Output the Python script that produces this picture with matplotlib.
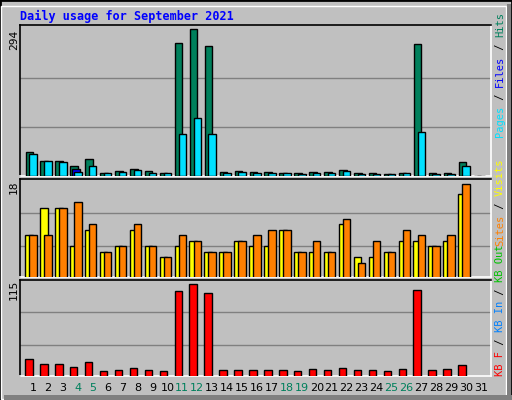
import matplotlib
matplotlib.use("Agg")
import matplotlib.pyplot as plt
from matplotlib.patches import Rectangle
import numpy as np

days = list(range(1, 32))
hits  = [48.6,30.6,30.6,20.6,34.6,6.6,10.6,14.6,10.6,6.6,266,294,260,8.6,10.6,
         8,8,6,6,8,8,12,6,6,4,6,265,6,6,27,0]
pages = [44.6,30.6,28.6,7.3,20.6,6.6,8.6,12.6,6.6,6.6,84.5,116,84.5,6.6,8.6,
         6,6,6,4,6,6,10,4,4,4,6,87,4,4,19,0]
files = list(pages); files[3] = 13
visits = [8,13,13,6,9,5,6,9,6,4,6,7,5,5,7,6,6,9,5,5,5,10,4,4,5,7,7,6,7,15.5,0]
sites  = [8,8,13,14,10,5,6,10,6,4,8,7,5,5,7,8,9,9,5,7,5,11,3,7,5,9,8,6,8,17.3,0]
kbf = [21.5,15.7,15.7,12.3,18,7.7,8.8,11.1,8.8,7.7,100.8,110,98.5,8.8,8.8,8.8,8.8,
       8.8,7.7,10,8.8,11.1,8.8,8.8,7.7,10,102,8.8,10,14.6,0]
weekends = [4,5,11,12,18,19,25,26]

BG = "#C0C0C0"
W, H = 512, 400
fig = plt.figure(figsize=(W/100, H/100), dpi=100, facecolor=BG)
fig.patches.append(Rectangle((0, 0), 1, 1, transform=fig.transFigure, fill=False,
                             edgecolor="black", lw=2))
fig.patches.append(Rectangle((1/W, 1/H), 1-7/W, 1-7/H, transform=fig.transFigure,
                             fill=False, edgecolor="white", lw=1))
fig.patches.append(Rectangle((4/W, 0), 1-4/W, 5/H, transform=fig.transFigure,
                             color="#808080", lw=0))
fig.patches.append(Rectangle((1-5/W, 0), 4/W, 1-4/H, transform=fig.transFigure,
                             color="#808080", lw=0))

def ax_at(top, bot):
    a = fig.add_axes([20/W, 1-bot/H, 471/W, (bot-top)/H])
    a.set_facecolor(BG)
    a.set_xlim(0.13, 31.67)
    a.set_xticks([]); a.set_yticks([])
    for s in a.spines.values():
        s.set_color("black"); s.set_linewidth(1.2)
    a.spines['right'].set_color("white"); a.spines['bottom'].set_color("white")
    return a

d = np.array(days)
kw = dict(edgecolor="black", linewidth=1, align="edge", zorder=3)

a1 = ax_at(25, 176)
a1.set_ylim(0, 302)
for g in (98, 196): a1.axhline(g, color="#808080", lw=1, zorder=1)
a1.bar(d-0.5, hits, 0.5, color="#00805C", **kw)
fmask = np.array(files) > np.array(pages)
a1.bar(d[fmask]-0.37, np.array(files)[fmask], 0.52, color="#0000FF", **kw)
a1.bar(d-0.25, pages, 0.5, color="#00E0FF", **kw)

a2 = ax_at(179, 277)
a2.set_ylim(0.43, 18.2)
for g in (6, 12): a2.axhline(g, color="#808080", lw=1, zorder=1)
a2.bar(d-0.52, visits, 0.5, color="#FFFF00", **kw)
a2.bar(d-0.25, sites, 0.5, color="#FF8000", **kw)

a3 = ax_at(280, 376)
a3.set_ylim(1.5, 114.2)
for g in (38.3, 76.7): a3.axhline(g, color="#808080", lw=1, zorder=1)
a3.bar(d-0.52, kbf, 0.5, color="#FF0000", **kw)

mono = "DejaVu Sans Mono"
fig.text(20/W, 1-16/H, "Daily usage for September 2021", color="#0000FF",
         fontsize=8.5, fontweight="bold", family=mono, va="center")
for lab, yc in (("294", 40), ("18", 187), ("115", 290)):
    fig.text(14/W, 1-yc/H, lab, rotation=90, fontsize=8, family=mono,
             ha="center", va="center")
for day in days:
    x = 20 + (day-0.13)*471/31.54
    fig.text(x/W, 1-388/H, str(day), fontsize=8, ha="center", va="center",
             color="#00805C" if day in weekends else "black")

renderer = fig.canvas.get_renderer()
def vlabel(parts, ybot):
    y = ybot
    for txt, col in parts:
        t = fig.text(500/W, 1-y/H, txt, rotation=90, fontsize=7.5, family=mono,
                     color=col, ha="center", va="bottom")
        bb = t.get_window_extent(renderer)
        y -= bb.height

vlabel([("Pages", "#00E0FF"), (" / ", "black"), ("Files", "#0000FF"),
        (" / ", "black"), ("Hits", "#00805C")], 137)
vlabel([("Sites", "#FF8000"), (" / ", "black"), ("Visits", "#FFFF00")], 246)
vlabel([("KB F", "#FF0000"), (" / ", "black"), ("KB In", "#0080FF"),
        (" / ", "black"), ("KB Out", "#00C000")], 376)

fig.savefig("out.png", dpi=100, facecolor=BG)
